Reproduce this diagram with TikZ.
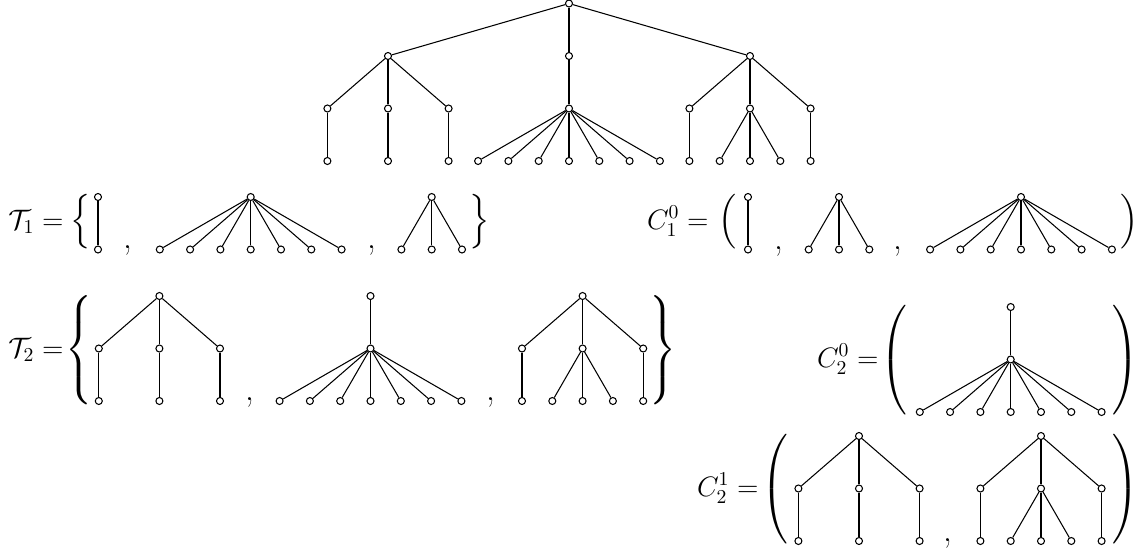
\RequirePackage{fix-cm}
\documentclass[tikz,border=0pt]{standalone}
\usepackage{amsmath}
\usepackage{tikz}

% subtree macros: #1 name, #2 x, #3 y of the root (px, y down)
\newcommand{\edgetree}[3]{%
  \node[vtx] (#1-r) at ({#2},{#3}) {};
  \node[vtx] (#1-1) at ({#2},{#3+52.5}) {};
  \draw[edge] (#1-r) -- (#1-1);
}
\newcommand{\starthree}[3]{%
  \node[vtx] (#1-r) at ({#2},{#3}) {};
  \foreach \k in {1,2,3}{
    \node[vtx] (#1-\k) at ({#2+(\k-2)*30.3},{#3+52.5}) {};
    \draw[edge] (#1-r) -- (#1-\k);
  }
}
\newcommand{\starseven}[3]{%
  \node[vtx] (#1-r) at ({#2},{#3}) {};
  \foreach \k in {1,...,7}{
    \node[vtx] (#1-\k) at ({#2+(\k-4)*30.3},{#3+52.5}) {};
    \draw[edge] (#1-r) -- (#1-\k);
  }
}
\newcommand{\treeA}[3]{%
  \node[vtx] (#1-r) at ({#2},{#3}) {};
  \edgetree{#1-a}{#2-60.6}{#3+52.5}
  \edgetree{#1-b}{#2}{#3+52.5}
  \edgetree{#1-c}{#2+60.6}{#3+52.5}
  \draw[edge] (#1-r) -- (#1-a-r);
  \draw[edge] (#1-r) -- (#1-b-r);
  \draw[edge] (#1-r) -- (#1-c-r);
}
\newcommand{\treeB}[3]{%
  \node[vtx] (#1-r) at ({#2},{#3}) {};
  \starseven{#1-s}{#2}{#3+52.5}
  \draw[edge] (#1-r) -- (#1-s-r);
}
\newcommand{\treeC}[3]{%
  \node[vtx] (#1-r) at ({#2},{#3}) {};
  \edgetree{#1-a}{#2-60.6}{#3+52.5}
  \starthree{#1-b}{#2}{#3+52.5}
  \edgetree{#1-c}{#2+60.6}{#3+52.5}
  \draw[edge] (#1-r) -- (#1-a-r);
  \draw[edge] (#1-r) -- (#1-b-r);
  \draw[edge] (#1-r) -- (#1-c-r);
}
\newcommand{\tallL}[2]{\left#1\vcenter{\hbox{\vrule height #2 width 0pt}}\right.}
\newcommand{\tallR}[2]{\left.\vcenter{\hbox{\vrule height #2 width 0pt}}\right#1}

\begin{document}
\begin{tikzpicture}[
    x=0.02cm, y=-0.02cm,
    font=\fontsize{16}{19}\selectfont,
    vtx/.style={
      circle, draw, fill=white, line width=0.6pt,
      inner sep=0pt, minimum size=0.14cm
    },
    edge/.style={line width=0.6pt},
    lbl/.style={anchor=base east, inner sep=0pt},
    delim/.style={anchor=base, inner sep=0pt},
    sep/.style={anchor=base, inner sep=0pt, font=\fontsize{20}{24}\selectfont},
  ]
    \useasboundingbox (0,0) rectangle (1143,551);

    % the whole tree
    \node[vtx] (top) at (569,3.5) {};
    \treeA{big-L}{388}{56}
    \treeB{big-M}{569}{56}
    \treeC{big-R}{750}{56}
    \draw[edge] (top) -- (big-L-r);
    \draw[edge] (top) -- (big-M-r);
    \draw[edge] (top) -- (big-R-r);

    % T_1
    \node[lbl] (t1) at (64,229) {$\mathcal{T}_1 =$};
    \node[delim] (t1-open) at (81,229) {$\Big\{$};
    \edgetree{t1-a}{98}{197}
    \node[sep] (t1-c1) at (128,248) {,};
    \starseven{t1-b}{250.7}{197}
    \node[sep] (t1-c2) at (372,248) {,};
    \starthree{t1-c}{431.7}{197}
    \node[delim] (t1-close) at (480,229) {$\Big\}$};

    % C_1^0
    \node[lbl] (c1) at (709,229) {$C_1^0 =$};
    \node[delim] (c1-open) at (728,229) {$\Big($};
    \edgetree{c1-a}{748}{197}
    \node[sep] (c1-c1) at (779,249) {,};
    \starthree{c1-b}{839}{197}
    \node[sep] (c1-c2) at (898,249) {,};
    \starseven{c1-c}{1021}{197}
    \node[delim] (c1-close) at (1130,229) {$\Big)$};

    % T_2
    \node[lbl] (t2) at (64,357) {$\mathcal{T}_2 =$};
    \node[delim] (t2-open) at (80,357) {$\tallL\{{60pt}$};
    \treeA{t2-a}{159.4}{296}
    \node[sep] (t2-c1) at (250,400) {,};
    \treeB{t2-b}{370.5}{296}
    \node[sep] (t2-c2) at (491,400) {,};
    \treeC{t2-c}{582.6}{296}
    \node[delim] (t2-close) at (662,357) {$\tallR\}{60pt}$};

    % C_2^0
    \node[lbl] (c20) at (879,367) {$C_2^0 =$};
    \node[delim] (c20-open) at (895,367) {$\tallL({58pt}$};
    \treeB{c20-a}{1010.7}{307}
    \node[delim] (c20-close) at (1125,367) {$\tallR){58pt}$};

    % C_2^1
    \node[lbl] (c21) at (759,496) {$C_2^1 =$};
    \node[delim] (c21-open) at (776,496) {$\tallL({58pt}$};
    \treeA{c21-a}{859}{436}
    \node[sep] (c21-c1) at (948,541) {,};
    \treeC{c21-b}{1041}{436}
    \node[delim] (c21-close) at (1125,496) {$\tallR){58pt}$};
  \end{tikzpicture}
\end{document}
